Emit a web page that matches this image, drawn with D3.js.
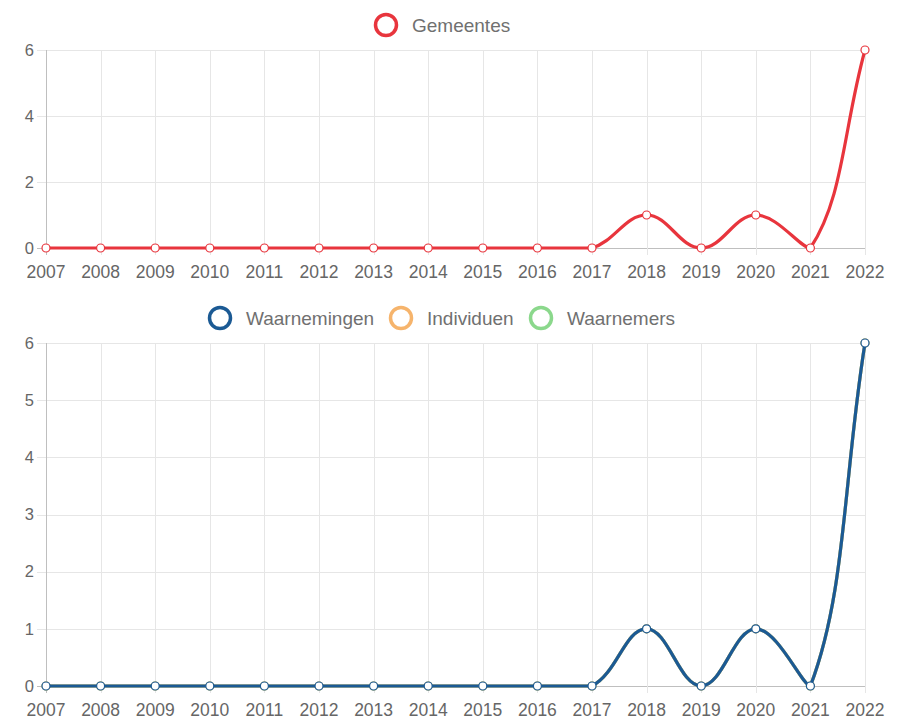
<!DOCTYPE html>
<html>
<head>
<meta charset="utf-8">
<script src="https://cdn.jsdelivr.net/npm/d3@7"></script>
<style>
  body { margin: 0; background: #fff; }
  svg { display: block; font-family: "Liberation Sans", Arial, sans-serif; }
</style>
</head>
<body>
<svg id="chart" width="902" height="719"></svg>
<script>
var years = ["2007", "2008", "2009", "2010", "2011", "2012", "2013", "2014",
             "2015", "2016", "2017", "2018", "2019", "2020", "2021", "2022"];

var gemeentes     = [0, 0, 0, 0, 0, 0, 0, 0, 0, 0, 0, 1, 0, 1, 0, 6];
var waarnemingen  = [0, 0, 0, 0, 0, 0, 0, 0, 0, 0, 0, 1, 0, 1, 0, 6];
var individuen    = [0, 0, 0, 0, 0, 0, 0, 0, 0, 0, 0, 1, 0, 1, 0, 6];
var waarnemers    = [0, 0, 0, 0, 0, 0, 0, 0, 0, 0, 0, 1, 0, 1, 0, 6];

var topTicks = [0, 2, 4, 6];
var bottomTicks = [0, 1, 2, 3, 4, 5, 6];

var svg = d3.select("#chart");

// chart.js-like bezier control points (tension 0.4, capped to chart area)
function splinePath(pts, tension, area) {
    var cps = pts.map(function (p, i) {
        var prev = pts[i - 1] || p;
        var next = pts[i + 1] || p;
        var d01 = Math.hypot(p.x - prev.x, p.y - prev.y);
        var d12 = Math.hypot(next.x - p.x, next.y - p.y);
        var s01 = d01 / (d01 + d12) || 0;
        var s12 = d12 / (d01 + d12) || 0;
        var fa = tension * s01, fb = tension * s12;
        var c = {
            px: p.x - fa * (next.x - prev.x), py: p.y - fa * (next.y - prev.y),
            nx: p.x + fb * (next.x - prev.x), ny: p.y + fb * (next.y - prev.y)
        };
        c.py = Math.max(area.top, Math.min(area.bottom, c.py));
        c.ny = Math.max(area.top, Math.min(area.bottom, c.ny));
        c.px = Math.max(area.left, Math.min(area.right, c.px));
        c.nx = Math.max(area.left, Math.min(area.right, c.nx));
        return c;
    });
    var path = d3.path();
    pts.forEach(function (p, i) {
        if (i === 0) { path.moveTo(p.x, p.y); return; }
        path.bezierCurveTo(cps[i - 1].nx, cps[i - 1].ny, cps[i].px, cps[i].py, p.x, p.y);
    });
    return path.toString();
}

function drawChart(cfg) {
    var g = svg.append("g");
    var x = d3.scalePoint().domain(years).range([46, 865]);
    var y = d3.scaleLinear().domain([0, d3.max(cfg.ticks)]).range([cfg.bottom, cfg.top]);

    // horizontal grid
    g.selectAll(".hgrid").data(cfg.ticks).enter().append("line")
        .attr("x1", 37).attr("x2", 865)
        .attr("y1", function (d) { return Math.round(y(d)) + 0.5; })
        .attr("y2", function (d) { return Math.round(y(d)) + 0.5; })
        .attr("stroke", function (d) { return d === 0 ? "#bfbfbf" : "#e6e6e6"; })
        .attr("stroke-width", 1);

    // vertical grid
    g.selectAll(".vgrid").data(years).enter().append("line")
        .attr("x1", function (d) { return Math.round(x(d)) + 0.5; })
        .attr("x2", function (d) { return Math.round(x(d)) + 0.5; })
        .attr("y1", cfg.top).attr("y2", cfg.bottom + 7)
        .attr("stroke", function (d, i) { return i === 0 ? "#bfbfbf" : "#e6e6e6"; })
        .attr("stroke-width", 1);

    // y tick labels
    g.selectAll(".ylab").data(cfg.ticks).enter().append("text")
        .attr("x", 34).attr("y", function (d) { return y(d); })
        .attr("dy", "0.35em").attr("text-anchor", "end")
        .attr("font-size", 16.5).attr("fill", "#666")
        .text(function (d) { return d; });

    // x tick labels
    g.selectAll(".xlab").data(years).enter().append("text")
        .attr("x", function (d) { return x(d); }).attr("y", cfg.bottom + 30)
        .attr("text-anchor", "middle")
        .attr("font-size", 17.5).attr("fill", "#666")
        .text(function (d) { return d; });

    var area = { left: 46, right: 865, top: cfg.top, bottom: cfg.bottom };

    // series drawn last-first so first dataset ends on top
    cfg.series.slice().reverse().forEach(function (s) {
        var pts = s.values.map(function (v, i) { return { x: x(years[i]), y: y(v) }; });
        g.append("path")
            .attr("d", splinePath(pts, 0.4, area))
            .attr("fill", "none")
            .attr("stroke", s.color)
            .attr("stroke-width", 3.2);
        g.selectAll(null).data(pts).enter().append("circle")
            .attr("cx", function (d) { return d.x; })
            .attr("cy", function (d) { return d.y; })
            .attr("r", 4)
            .attr("fill", "#fff")
            .attr("stroke", s.color)
            .attr("stroke-width", 1.2);
    });

    // legend
    var leg = g.append("g");
    cfg.series.forEach(function (s, i) {
        leg.append("circle")
            .attr("cx", s.lx).attr("cy", cfg.legendY).attr("r", 10.5)
            .attr("fill", "none").attr("stroke", s.color).attr("stroke-width", 3.5);
        leg.append("text")
            .attr("x", s.lx + 26).attr("y", cfg.legendY).attr("dy", "0.35em")
            .attr("font-size", 19).attr("fill", "#707070")
            .text(s.name);
    });
}

drawChart({
    top: 50, bottom: 248, ticks: topTicks, legendY: 25,
    series: [{ name: "Gemeentes", values: gemeentes, color: "#e8353d", lx: 386 }]
});

drawChart({
    top: 343, bottom: 686, ticks: bottomTicks, legendY: 318,
    series: [
        { name: "Waarnemingen", values: waarnemingen, color: "#1b5a94", lx: 220 },
        { name: "Individuen", values: individuen, color: "#f6b46c", lx: 401 },
        { name: "Waarnemers", values: waarnemers, color: "#8bd88c", lx: 541 }
    ]
});
</script>
</body>
</html>
